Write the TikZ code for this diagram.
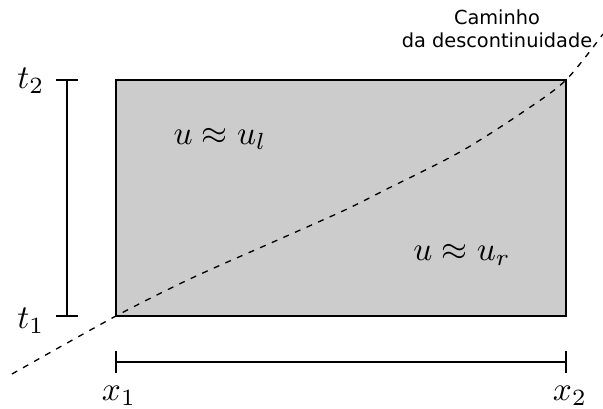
\documentclass[tikz,border=0pt]{standalone}
\usepackage{fontspec}
\newfontfamily\labelfont{DejaVu Sans}
\begin{document}
\begin{tikzpicture}[x=0.3pt,y=-0.3pt,
  region/.style={draw=black,line width=0.4pt,fill=black!20},
  bar/.style={draw=black,line width=0.4pt},
  path/.style={draw=black,line width=0.4pt,dash pattern=on 1.8pt off 2pt},
  lbl/.style={inner sep=0pt},
  note/.style={inner sep=0pt,align=center,font=\labelfont\fontsize{5.8}{6.9}\selectfont}]
\useasboundingbox (0,0) rectangle (603,409);
% corners of the region
\coordinate (A) at (116,316);
\coordinate (B) at (566,80);
\draw[region] (A) rectangle (B);
% time bar
\coordinate (t1) at (67,316);
\coordinate (t2) at (67,80);
\draw[bar] (t1) -- (t2);
\draw[bar] ([xshift=-11*0.3pt]t1) -- ([xshift=11*0.3pt]t1);
\draw[bar] ([xshift=-11*0.3pt]t2) -- ([xshift=11*0.3pt]t2);
\node[lbl,anchor=east] (lt2) at (45,81) {$t_2$};
\node[lbl,anchor=east] (lt1) at (45,321) {$t_1$};
% space bar
\coordinate (x1) at (116,362);
\coordinate (x2) at (566,362);
\draw[bar] (x1) -- (x2);
\draw[bar] ([yshift=11*0.3pt]x1) -- ([yshift=-11*0.3pt]x1);
\draw[bar] ([yshift=11*0.3pt]x2) -- ([yshift=-11*0.3pt]x2);
\node[lbl] (lx1) at (119,396) {$x_1$};
\node[lbl] (lx2) at (570,396) {$x_2$};
% region labels
\node[lbl] (ul) at (220,139) {$u\approx u_l$};
\node[lbl] (ur) at (462,255) {$u\approx u_r$};
% discontinuity path
\draw[path] plot[smooth,tension=0.5] coordinates {(12,374) (116,316) (192,278) (280,239) (345,210) (383,191) (460,152) (523,112) (566,80) (603,34)};
\node[note] (cap) at (497,29) {Caminho\\da descontinuidade};
\end{tikzpicture}
\end{document}
